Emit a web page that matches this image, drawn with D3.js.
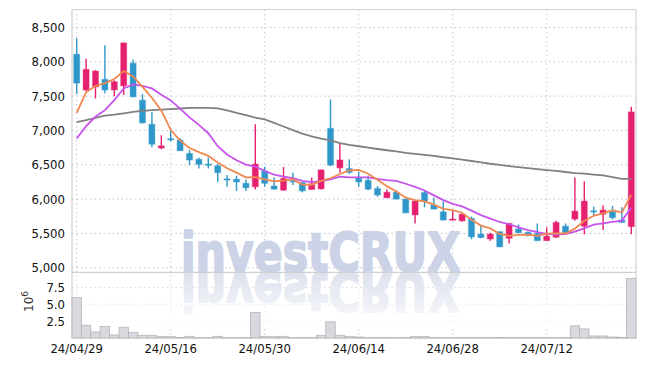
<!DOCTYPE html>
<html><head><meta charset="utf-8">
<script src="https://cdn.jsdelivr.net/npm/d3@7"></script>
<style>body{margin:0;background:#fff} svg{display:block}</style>
</head><body><svg id="c" width="645" height="366"></svg>
<script>
const dates = ["24/04/29","24/04/30","24/05/02","24/05/03","24/05/07","24/05/08","24/05/09","24/05/10","24/05/13","24/05/14",
"24/05/16","24/05/17","24/05/20","24/05/21","24/05/22","24/05/23","24/05/24","24/05/27","24/05/28","24/05/29",
"24/05/30","24/05/31","24/06/03","24/06/04","24/06/05","24/06/07","24/06/10","24/06/11","24/06/12","24/06/13",
"24/06/14","24/06/17","24/06/18","24/06/19","24/06/20","24/06/21","24/06/24","24/06/25","24/06/26","24/06/27",
"24/06/28","24/07/01","24/07/02","24/07/03","24/07/04","24/07/05","24/07/08","24/07/09","24/07/10","24/07/11",
"24/07/12","24/07/15","24/07/16","24/07/17","24/07/18","24/07/19","24/07/22","24/07/23","24/07/24","24/07/25"];
const openP = [8110,7590,7635,7745,7590,7650,7980,7440,7090,6745,6880,6860,6665,6580,6510,6485,6295,6290,6230,6180,6410,6190,6130,6270,6240,6140,6150,7030,6455,6445,6315,6275,6155,6020,6100,6000,5770,6095,5915,5815,5700,5685,5720,5490,5420,5525,5430,5565,5515,5500,5395,5445,5605,5710,5605,5830,5780,5815,5695,5600];
const closeP = [7690,7890,7865,7590,7710,8275,7490,7110,6800,6775,6870,6705,6570,6505,6500,6385,6290,6250,6165,6510,6230,6145,6300,6260,6120,6220,6425,6495,6570,6390,6250,6145,6060,6100,6000,5800,5970,5970,5855,5695,5710,5780,5450,5440,5490,5305,5645,5510,5470,5395,5460,5660,5510,5825,5970,5820,5840,5730,5660,7270];
const highP = [8340,8045,7880,8240,7730,8280,8035,7530,7265,6930,7030,6885,6715,6605,6607,6510,6350,6340,6285,7090,6470,6315,6470,6383,6250,6315,6430,7450,6810,6580,6400,6340,6190,6145,6130,6005,5975,6130,6020,5970,5840,5790,5745,5620,5510,5530,5650,5630,5530,5645,5590,5685,5645,6315,6260,5890,5910,5900,5880,7345];
const lowP = [7530,7570,7465,7540,7500,7515,7485,7100,6755,6725,6835,6700,6495,6445,6447,6250,6180,6120,6120,6140,6180,6140,6125,6204,6100,6140,6140,6480,6385,6365,6180,6130,6035,6015,5995,5795,5645,5880,5850,5690,5695,5670,5415,5430,5395,5300,5355,5505,5460,5390,5390,5440,5505,5685,5490,5765,5550,5705,5655,5490];
const volume = [6.0,1.9,0.9,1.7,0.45,1.6,0.85,0.4,0.4,0.25,0.2,0.1,0.25,0.05,0.05,0.25,0.05,0.05,0.05,3.8,0.25,0.2,0.25,0.05,0.05,0.05,0.4,2.4,0.4,0.25,0.15,0.05,0.05,0.05,0.05,0.05,0.2,0.2,0.05,0.05,0.05,0.05,0.05,0.05,0.05,0.1,0.05,0.05,0.05,0.05,0.05,0.05,0.05,1.8,1.35,0.3,0.3,0.15,0.1,8.85];
const ma5 = [7257,7555,7648,7690,7749,7866,7786,7635,7477,7290,7009,6852,6744,6685,6630,6533,6450,6386,6318,6320,6289,6260,6270,6289,6211,6209,6265,6304,6366,6420,6426,6370,6283,6189,6111,6021,5986,5968,5919,5858,5840,5802,5698,5615,5574,5493,5466,5478,5484,5465,5496,5499,5499,5570,5685,5757,5793,5837,5804,6064];
const ma10 = [6884,7063,7199,7296,7442,7612,7670,7650,7612,7520,7438,7319,7190,7081,6960,6771,6651,6565,6502,6475,6411,6355,6328,6304,6266,6249,6263,6287,6328,6316,6318,6318,6294,6278,6266,6224,6178,6126,6054,5985,5931,5894,5833,5767,5716,5667,5634,5588,5550,5520,5495,5483,5489,5527,5575,5627,5646,5668,5687,5875];
const ma60 = [7120,7150,7185,7215,7230,7250,7270,7286,7295,7303,7312,7320,7328,7330,7328,7321,7292,7255,7222,7188,7160,7110,7058,7005,6955,6915,6880,6855,6815,6790,6770,6750,6730,6712,6695,6675,6660,6645,6630,6610,6595,6575,6555,6535,6515,6500,6482,6465,6450,6437,6423,6410,6395,6380,6370,6358,6345,6320,6295,6295];
const priceTicks = [5000,5500,6000,6500,7000,7500,8000,8500];
const volTicks = [2.5,5.0,7.5];
const dateTicks = ["24/04/29","24/05/16","24/05/30","24/06/14","24/06/28","24/07/12"];

const svg = d3.select("#c");
const L=72, R=636, PT=9.5, PB=272.3, VB=338;
const FONT = "'DejaVu Sans Condensed','DejaVu Sans',sans-serif";
const UP="#e5206f", DOWN="#2f97c9";

const x = d3.scaleBand().domain(dates).range([L,R]).padding(0);
const cx = d => x(d) + x.bandwidth()/2;
const y = d3.scaleLinear().domain([4934,8762]).range([PB,PT]);
const yv = d3.scaleLinear().domain([0,9.76]).range([VB,PB]);

const defs = svg.append("defs");
const grad = defs.append("linearGradient").attr("id","fade").attr("x1",0).attr("y1",0).attr("x2",0).attr("y2",1);
grad.append("stop").attr("offset","0%").attr("stop-color","#fff").attr("stop-opacity",0.1);
grad.append("stop").attr("offset","100%").attr("stop-color","#fff").attr("stop-opacity",0.9);
defs.append("clipPath").attr("id","volclip").append("rect").attr("x",L).attr("y",PB).attr("width",R-L).attr("height",VB-PB);

// grid
const grid = svg.append("g");
grid.selectAll(".hg").data(priceTicks).join("line")
  .attr("x1",L).attr("x2",R).attr("y1",d=>y(d)).attr("y2",d=>y(d))
  .attr("stroke","#c3c6d2").attr("stroke-width",1).attr("stroke-dasharray","1.5,3");
grid.selectAll(".vg").data(volTicks).join("line")
  .attr("x1",L).attr("x2",R).attr("y1",d=>yv(d)).attr("y2",d=>yv(d))
  .attr("stroke","#c3c6d2").attr("stroke-width",1).attr("stroke-dasharray","1.5,3");
grid.selectAll(".xg").data(dateTicks).join("line")
  .attr("x1",d=>cx(d)).attr("x2",d=>cx(d)).attr("y1",PT).attr("y2",VB)
  .attr("stroke","#c2c9dc").attr("stroke-width",1).attr("stroke-dasharray","1.5,3");

// watermark
const WMF = "'DejaVu Sans','Open Sans',sans-serif";
const wm = svg.append("g");
wm.append("text").attr("x",181).attr("y",PB-1).text("investCRUX")
  .attr("font-family",WMF).attr("font-weight",900).attr("font-size",53)
  .attr("textLength",279).attr("lengthAdjust","spacingAndGlyphs")
  .attr("fill","#cdd3e6").attr("stroke","#cdd3e6").attr("stroke-width",2).attr("stroke-linejoin","round");
const refl = wm.append("g").attr("clip-path","url(#volclip)");
refl.append("text").attr("x",181).attr("y",PB-1).text("investCRUX")
  .attr("transform",`translate(0,${2*PB}) scale(1,-1)`)
  .attr("font-family",WMF).attr("font-weight",900).attr("font-size",53)
  .attr("textLength",279).attr("lengthAdjust","spacingAndGlyphs")
  .attr("fill","#d9deec").attr("stroke","#d9deec").attr("stroke-width",2).attr("stroke-linejoin","round");
refl.append("rect").attr("x",L).attr("y",PB).attr("width",R-L).attr("height",55).attr("fill","url(#fade)");

// frame
svg.append("line").attr("x1",L).attr("x2",R).attr("y1",PT).attr("y2",PT).attr("stroke","#d4d4d4").attr("stroke-width",1.2);
svg.append("line").attr("x1",R).attr("x2",R).attr("y1",PT).attr("y2",VB).attr("stroke","#d4d4d4").attr("stroke-width",1.2);
svg.append("line").attr("x1",L).attr("x2",L).attr("y1",PT).attr("y2",VB).attr("stroke","#cfcfcf").attr("stroke-width",1.2);
svg.append("line").attr("x1",L).attr("x2",R).attr("y1",PB).attr("y2",PB).attr("stroke","#cfcfcf").attr("stroke-width",1.2);
svg.append("line").attr("x1",L).attr("x2",R).attr("y1",VB).attr("y2",VB).attr("stroke","#cfcfcf").attr("stroke-width",1.2);

// volume bars
svg.append("g").selectAll("rect").data(dates).join("rect")
  .attr("x",d=>x(d)).attr("width",x.bandwidth())
  .attr("y",(d,i)=>yv(volume[i])).attr("height",(d,i)=>VB-yv(volume[i]))
  .attr("fill","#d8d8de").attr("stroke","#b4b4bc").attr("stroke-width",0.8);

// candles
const cg = svg.append("g");
dates.forEach((d,i)=>{
  const up = closeP[i] >= openP[i];
  const col = up ? UP : DOWN;
  const g = cg.append("g");
  g.append("line").attr("x1",cx(d)).attr("x2",cx(d)).attr("y1",y(highP[i])).attr("y2",y(lowP[i]))
    .attr("stroke",col).attr("stroke-width",1.4);
  const top = y(Math.max(openP[i],closeP[i])), bot = y(Math.min(openP[i],closeP[i]));
  g.append("rect").attr("x",cx(d)-3).attr("width",6).attr("y",top).attr("height",Math.max(1.2,bot-top))
    .attr("fill",col).attr("stroke",col).attr("stroke-opacity",0.35).attr("stroke-width",1.2);
});

// MA lines
const line = arr => d3.line().x((d,i)=>cx(dates[i])).y(d=>y(d))(arr);
svg.append("path").attr("d",line(ma60)).attr("fill","none").attr("stroke","#808080").attr("stroke-width",1.8);
svg.append("path").attr("d",line(ma10)).attr("fill","none").attr("stroke","#c752ec").attr("stroke-width",1.8);
svg.append("path").attr("d",line(ma5)).attr("fill","none").attr("stroke","#ef8950").attr("stroke-width",1.8);

// axes
const fmt = d3.format(",");
const ay = svg.append("g").attr("transform",`translate(${L},0)`)
  .call(d3.axisLeft(y).tickValues(priceTicks).tickFormat(fmt).tickSize(0).tickPadding(7));
const av = svg.append("g").attr("transform",`translate(${L},0)`)
  .call(d3.axisLeft(yv).tickValues(volTicks).tickFormat(d3.format(".1f")).tickSize(0).tickPadding(7));
const ax = svg.append("g").attr("transform",`translate(0,${VB})`)
  .call(d3.axisBottom(x).tickValues(dateTicks).tickSize(0).tickPadding(6));
[ay,av,ax].forEach(a=>{
  a.select(".domain").remove();
  a.selectAll("text").attr("font-family",FONT).attr("font-size",13).attr("fill","#111");
});

// 10^6 label
const lbl = svg.append("text").attr("transform","translate(33,312) rotate(-90)")
  .attr("font-family","'DejaVu Sans',sans-serif").attr("font-size",12).attr("fill","#333");
lbl.append("tspan").text("10");
lbl.append("tspan").text("6").attr("font-size",9).attr("dy",-5);
</script></body></html>
